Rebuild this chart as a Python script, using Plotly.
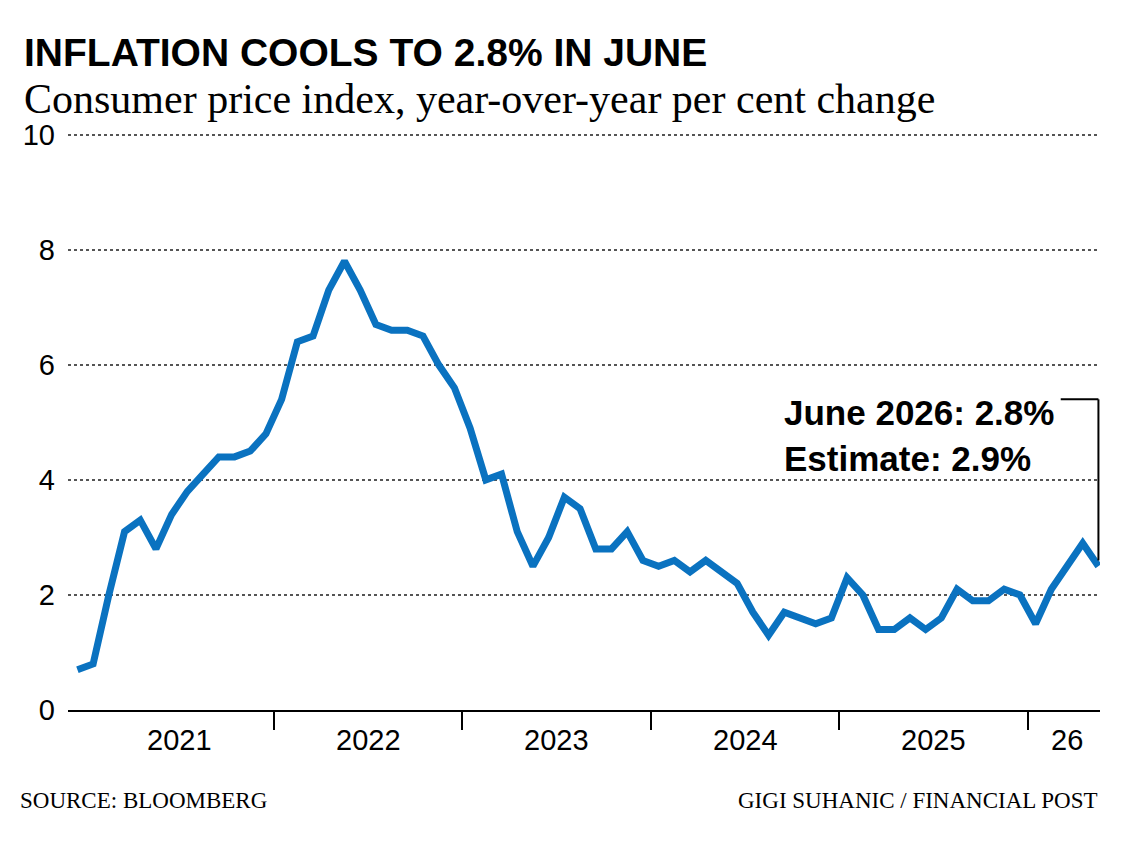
import plotly.graph_objects as go

values = [0.7,0.8,2.0,3.1,3.3,2.8,3.4,3.8,4.1,4.4,4.4,4.5,4.8,5.4,6.4,6.5,7.3,7.8,7.3,6.7,6.6,6.6,6.5,6.0,
          5.6,4.9,4.0,4.1,3.1,2.5,3.0,3.7,3.5,2.8,2.8,3.1,2.6,2.5,2.6,2.4,2.6,2.4,2.2,1.7,1.3,1.7,1.6,1.5,
          1.6,2.3,2.0,1.4,1.4,1.6,1.4,1.6,2.1,1.9,1.9,2.1,2.0,1.5,2.1,2.5,2.9,2.5]
months = list(range(len(values)))  # 0 = Dec 2020
year_labels = ["2021","2022","2023","2024","2025","26"]
year_mid = [6.5,18.5,30.5,42.5,54.5,63.0]
year_bounds = [12.5,24.5,36.5,48.5,60.5]
y_ticks = [0,2,4,6,8,10]

fig = go.Figure(go.Scatter(x=months, y=values, mode="lines",
                           line=dict(color="#0a72c0", width=7), hoverinfo="skip"))

H = 577
fig.update_layout(
    width=1128, height=845, paper_bgcolor="white", plot_bgcolor="white",
    margin=dict(l=60, r=36, t=125, b=143), showlegend=False,
    xaxis=dict(range=[-0.6,65.1], tickvals=year_bounds, ticktext=[""]*5, ticks="outside",
               ticklen=18, tickwidth=2, tickcolor="black", showgrid=False, zeroline=False,
               showline=True, linecolor="black", linewidth=2),
    yaxis=dict(range=[0,10.03], tickvals=y_ticks, showgrid=True, griddash="dot", gridcolor="#555",
               gridwidth=1.5, zeroline=False, ticks="", ticklabelstandoff=12,
               tickfont=dict(family="Liberation Sans", size=29, color="black")),
)
sans = "Liberation Sans"
for lbl, xm in zip(year_labels, year_mid):
    fig.add_annotation(x=xm, y=-(740-710)/H, xref="x", yref="paper", text=lbl, showarrow=False,
                       yanchor="middle", font=dict(family=sans, size=29, color="black"))

fig.add_annotation(xref="paper", yref="paper", x=-(60-14)/1032, y=1.0 + (133-52)/H, xanchor="left", yanchor="middle",
                   text="<b>INFLATION COOLS TO 2.8% IN JUNE</b>", showarrow=False,
                   font=dict(family=sans, size=39, color="black"))
fig.add_annotation(xref="paper", yref="paper", x=-(60-14)/1032, y=1.0 + (133-99)/H, xanchor="left", yanchor="middle",
                   text="Consumer price index, year-over-year per cent change", showarrow=False,
                   font=dict(family="Liberation Serif", size=42, color="black"))
src_font = dict(family="Liberation Serif", size=23, color="black")
fig.add_annotation(xref="paper", yref="paper", x=-(60-10)/1032, y=-(800-710)/H, xanchor="left", yanchor="middle",
                   text="SOURCE: BLOOMBERG", showarrow=False, font=src_font)
fig.add_annotation(xref="paper", yref="paper", x=1.0, y=-(800-710)/H, xanchor="right", yanchor="middle",
                   text="GIGI SUHANIC / FINANCIAL POST", showarrow=False, font=src_font)

fig.add_annotation(xref="x", yref="y", x=62.3, y=5.55, xanchor="right", yanchor="top", align="left",
                   text="<b>June 2026: 2.8%<br>Estimate: 2.9%</b>", showarrow=False,
                   font=dict(family=sans, size=35, color="black"))
fig.add_shape(type="line", xref="x", yref="y", x0=62.6, x1=65, y0=5.4, y1=5.4, line=dict(color="black", width=2))
fig.add_shape(type="line", xref="x", yref="y", x0=65, x1=65, y0=5.4, y1=2.6, line=dict(color="black", width=2))

fig.write_html("out.html")
